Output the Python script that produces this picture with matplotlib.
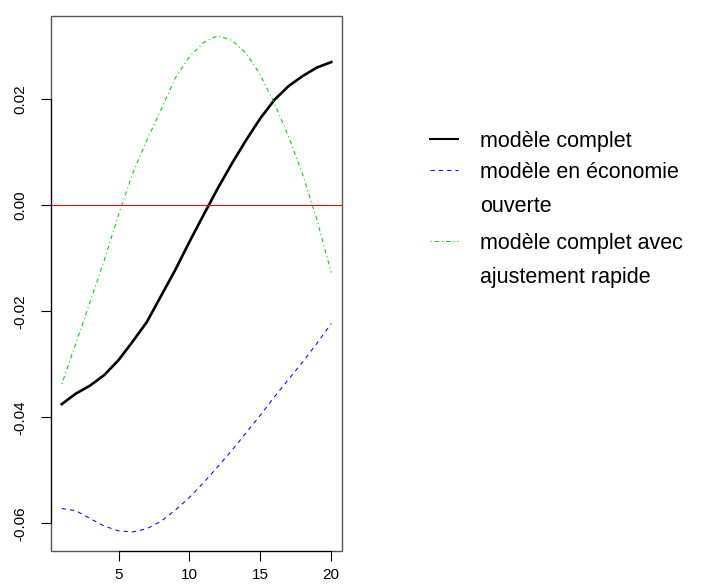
import numpy as np
import matplotlib
matplotlib.use('Agg')
import matplotlib.pyplot as plt
from matplotlib.lines import Line2D
from matplotlib.patches import Rectangle

plt.rcParams['font.family'] = ['Liberation Sans', 'DejaVu Sans']

# horizon (periods)
periode = np.arange(1, 21)

# modèle complet
complet = [-0.0375, -0.0355, -0.0340, -0.0320, -0.0292, -0.0257, -0.0220, -0.0171, -0.0122, -0.0069,
           -0.0018, 0.0032, 0.0079, 0.0123, 0.0164, 0.0199, 0.0225, 0.0244, 0.0260, 0.0270]
# modèle en économie ouverte
ouverte = [-0.0572, -0.0576, -0.0591, -0.0605, -0.0614, -0.0616, -0.0610, -0.0596, -0.0575, -0.0551,
           -0.0523, -0.0493, -0.0462, -0.0429, -0.0396, -0.0361, -0.0328, -0.0295, -0.0260, -0.0223]
# modèle complet avec ajustement rapide
rapide = [-0.0337, -0.0260, -0.0182, -0.0103, -0.0018, 0.0060, 0.0123, 0.0180, 0.0240, 0.0280,
          0.0307, 0.0320, 0.0311, 0.0287, 0.0246, 0.0192, 0.0129, 0.0057, -0.0028, -0.0127]

xticks = [5, 10, 15, 20]
yticks = [-0.06, -0.04, -0.02, 0.00, 0.02]
ytick_labels = ['-0.06', '-0.04', '-0.02', '0.00', '0.02']

labels = ['modèle complet', 'modèle en économie\nouverte', 'modèle complet avec\najustement rapide']
colors = ['black', '#0000FF', '#00CD00']

W, H = 722, 584
fig = plt.figure(figsize=(W / 100, H / 100), dpi=100)
ax = fig.add_axes([51 / W, 1 - 551 / H, (342 - 51) / W, (551 - 16) / H])

ax.plot(periode, complet, color=colors[0], lw=1.9)
ax.plot(periode, ouverte, color=colors[1], lw=0.75, linestyle=(0, (4, 4)))
ax.plot(periode, rapide, color=colors[2], lw=0.75, linestyle=(0, (1, 3, 4, 3)))
ax.axhline(0, color='#FF0000', lw=0.75)

ax.set_xlim(0.24, 20.76)
ax.set_ylim(-0.0652, 0.0357)
ax.set_xticks(xticks)
ax.set_xticklabels([str(t) for t in xticks])
ax.set_yticks(yticks)
ax.set_yticklabels(ytick_labels, rotation=90, va='center')
ax.tick_params(axis='both', direction='out', length=7, width=0.8, labelsize=11, colors='black')
ax.tick_params(axis='y', pad=10)
ax.tick_params(axis='x', pad=5)

# R-style box + axis lines
for s in ax.spines.values():
    s.set_visible(False)
ax.add_patch(Rectangle((0, 0), 1, 1, transform=ax.transAxes, fill=False,
                       edgecolor='#555555', lw=1.0, clip_on=False))
ax.spines['left'].set_visible(True)
ax.spines['left'].set_bounds(yticks[0], yticks[-1])
ax.spines['left'].set_color('black')
ax.spines['bottom'].set_visible(True)
ax.spines['bottom'].set_bounds(xticks[0], xticks[-1])
ax.spines['bottom'].set_color('black')

# legend drawn R-style (handle aligned with first line)
styles = ['-', (0, (4, 4)), (0, (1, 3, 4, 3))]
widths = [1.5, 0.75, 0.75]
first_base = [147, 178, 249]
for lab, c, ls, lw, yb in zip(labels, colors, styles, widths, first_base):
    yh = yb - 8
    fig.add_artist(Line2D([430 / W, 458 / W], [1 - yh / H, 1 - yh / H],
                          color=c, lw=lw, linestyle=ls))
    for k, line in enumerate(lab.split('\n')):
        fig.text(480 / W, 1 - (yb + 34 * k) / H, line, fontsize=15.5,
                 va='baseline', ha='left')

fig.savefig('out.png', dpi=100)
